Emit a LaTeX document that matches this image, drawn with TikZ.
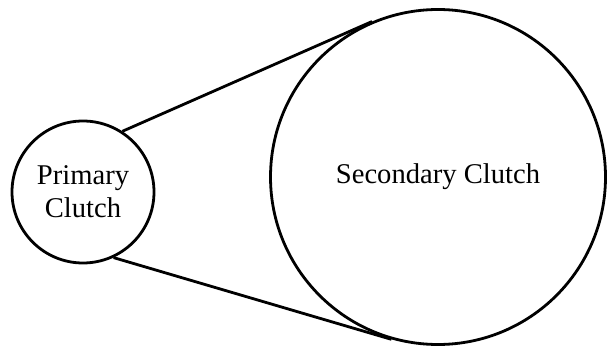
\documentclass[tikz,border=0pt]{standalone}
\usepackage{fontspec}
\setmainfont{Liberation Serif}
\begin{document}
\begin{tikzpicture}[x=1pt,y=-1pt,line width=2.8pt,
  circ/.style={circle,draw,inner sep=0pt,align=center,font=\fontsize{28.6}{33}\selectfont},
  belt/.style={draw,line width=2.8pt}]
\useasboundingbox (0,0) rectangle (607,347);
\node[circ,minimum size=142pt] (prim) at (83,192) {Primary\\Clutch};
\node[circ,minimum size=335pt] (sec) at (438,177) {Secondary Clutch};
\draw[belt] (prim.57) -- (sec.113.5);
\draw[belt] (prim.-65) -- (sec.-106);
\end{tikzpicture}
\end{document}
